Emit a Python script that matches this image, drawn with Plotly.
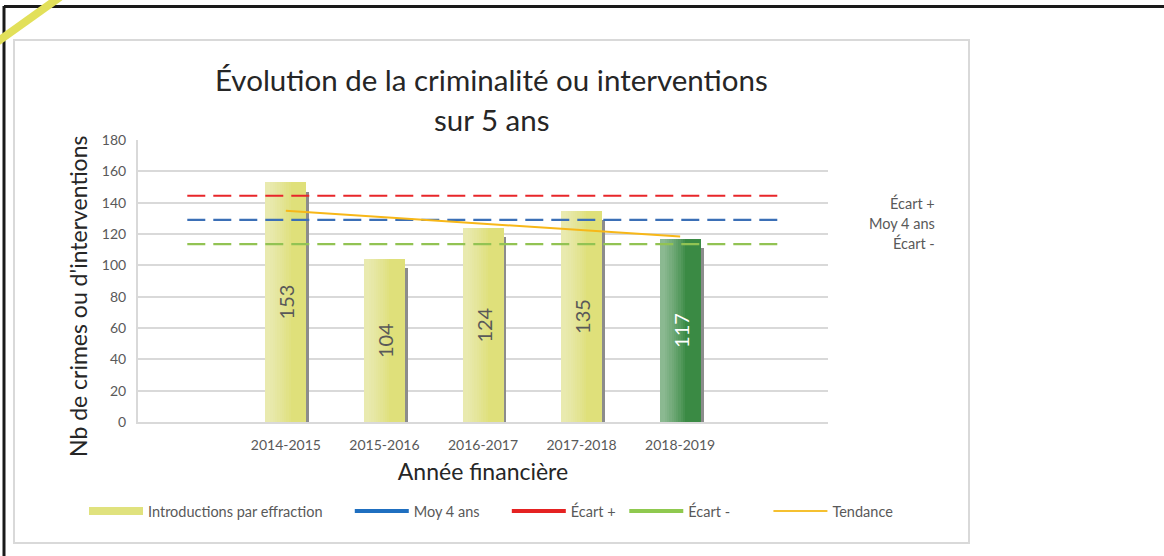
import plotly.graph_objects as go

# ---------------- data ----------------
categories = ["", "2014-2015", "2015-2016", "2016-2017", "2017-2018", "2018-2019", ""]
years = ["2014-2015", "2015-2016", "2016-2017", "2017-2018", "2018-2019"]
crimes = [153, 104, 124, 135, 117]
moy_4_ans = 129.0
ecart_plus = 144.4
ecart_moins = 113.6
tendance = [134.8, 130.7, 126.6, 122.5, 118.4]
y_ticks = [0, 20, 40, 60, 80, 100, 120, 140, 160, 180]

# ---------------- layout helpers ----------------
W, H = 1164, 556
PX0, PX1, PY0, PY1 = 138, 828, 140, 422  # plot area in pixels


def px(x):
    return (x - PX0) / (PX1 - PX0)


def py(y):
    return (PY1 - y) / (PY1 - PY0)


FONT = "Lato"
GREY_TXT = "#595959"
NB = "\u00a0"

bar_x = [categories.index(y) for y in years]
line_x = list(range(len(categories)))
bar_colors = ["#dfe07a"] * (len(crimes) - 1) + ["#3a8a44"]
txt_colors = [GREY_TXT] * (len(crimes) - 1) + ["#ffffff"]
BW = 0.416

fig = go.Figure()

# shadows of bars
fig.add_trace(go.Bar(
    x=bar_x, y=[v - 6 for v in crimes], width=0.03, offset=BW / 2,
    marker=dict(color="#8c8c8c", line=dict(width=0)),
    showlegend=False, hoverinfo="skip"))

# main bars
fig.add_trace(go.Bar(
    x=bar_x, y=crimes, width=BW,
    marker=dict(color=bar_colors, line=dict(width=0)),
    name="Introductions par effraction", showlegend=False))

# soft highlight strips (gradient look)
for i in range(10):
    w = BW * (0.62 - i * 0.055)
    fig.add_trace(go.Bar(
        x=bar_x, y=crimes, width=w, offset=-BW / 2,
        marker=dict(color="rgba(255,255,255,0.055)", line=dict(width=0)),
        showlegend=False, hoverinfo="skip"))

# data labels
fig.add_trace(go.Bar(
    x=bar_x, y=crimes, width=BW,
    marker=dict(color="rgba(0,0,0,0)", line=dict(width=0)),
    text=[str(v) for v in crimes], textposition="inside",
    insidetextanchor="middle", textangle=-90, constraintext="none",
    textfont=dict(family=FONT, size=20, color=txt_colors),
    showlegend=False, hoverinfo="skip"))

# horizontal reference lines
fig.add_trace(go.Scatter(x=line_x, y=[ecart_plus] * len(line_x), mode="lines",
                         line=dict(color="#e8262a", width=2.2, dash="18px,8px"),
                         showlegend=False, name="Écart +"))
fig.add_trace(go.Scatter(x=line_x, y=[moy_4_ans] * len(line_x), mode="lines",
                         line=dict(color="#3b6fb6", width=2.2, dash="18px,8px"),
                         showlegend=False, name="Moy 4 ans"))
fig.add_trace(go.Scatter(x=line_x, y=[ecart_moins] * len(line_x), mode="lines",
                         line=dict(color="#92c353", width=2.2, dash="18px,8px"),
                         showlegend=False, name="Écart -"))
# trend
fig.add_trace(go.Scatter(x=bar_x, y=tendance, mode="lines",
                         line=dict(color="#f7b718", width=2),
                         showlegend=False, name="Tendance"))

# legend entries
legend_items = [("Introductions par effraction", "#e0e27e", 8, 6),
                ("Moy 4 ans", "#1f6fc0", 4, 6),
                ("Écart +", "#e52222", 4, 1),
                ("Écart -", "#8fc94f", 4, 9),
                ("Tendance", "#f5c030", 2, 0)]
for name, col, wd, pad in legend_items:
    fig.add_trace(go.Scatter(x=[None], y=[None], mode="lines", name=name + NB * pad,
                             line=dict(color=col, width=wd)))

# title (two lines)
TITLE_FONT = dict(family=FONT, size=29.5, color="#262626")
fig.add_annotation(text="Évolution de la criminalité ou interventions", x=px(491.5), y=py(80),
                   xref="paper", yref="paper", showarrow=False, xanchor="center",
                   yanchor="middle", font=TITLE_FONT)
fig.add_annotation(text="sur 5 ans", x=px(491.5), y=py(120),
                   xref="paper", yref="paper", showarrow=False, xanchor="center",
                   yanchor="middle", font=TITLE_FONT)

# y axis title (placed like the reference, slightly below centre)
fig.add_annotation(text="Nb de crimes ou d'interventions", x=px(78), y=py(297),
                   xref="paper", yref="paper", showarrow=False, textangle=-90,
                   xanchor="center", yanchor="middle",
                   font=dict(family=FONT, size=23, color="#262626"))

# right-side labels
for txt, yy in [("Écart +", 203), ("Moy 4 ans", 223), ("Écart -", 243)]:
    fig.add_annotation(text=txt, x=px(937), y=py(yy), xref="paper", yref="paper",
                       xanchor="right", yanchor="middle", showarrow=False,
                       font=dict(family=FONT, size=14.5, color=GREY_TXT))

# frames
shapes = [
    # inner grey frame
    dict(type="rect", xref="paper", yref="paper", x0=px(14), x1=px(969), y0=py(543), y1=py(40),
         line=dict(color="#d9d9d9", width=2), layer="below"),
    # outer black border (top and left)
    dict(type="line", xref="paper", yref="paper", x0=px(4), x1=px(1170), y0=py(6.5), y1=py(6.5),
         line=dict(color="#1a1a1a", width=3)),
    dict(type="line", xref="paper", yref="paper", x0=px(4), x1=px(4), y0=py(6), y1=py(560),
         line=dict(color="#1a1a1a", width=3)),
    # yellow highlighter stroke
    dict(type="line", xref="paper", yref="paper", x0=px(-3), x1=px(60), y0=py(42), y1=py(-3),
         line=dict(color="#e2e05a", width=8)),
]

fig.update_layout(
    width=W, height=H,
    margin=dict(l=PX0, r=W - PX1, t=PY0, b=H - PY1, pad=0),
    paper_bgcolor="white", plot_bgcolor="white",
    barmode="overlay", bargap=0,
    shapes=shapes,
    font=dict(family=FONT, color=GREY_TXT),
    xaxis=dict(range=[-0.5, len(categories) - 0.5], tickvals=bar_x, ticktext=years,
               showgrid=False, zeroline=False, showline=True, linecolor="#d9d9d9", linewidth=2,
               ticks="", ticklabelstandoff=9,
               tickfont=dict(family=FONT, size=14, color=GREY_TXT),
               title=dict(text="Année financière", standoff=12,
                          font=dict(family=FONT, size=23, color="#262626"))),
    yaxis=dict(range=[0, 180], tickvals=y_ticks, showgrid=True, gridcolor="#d9d9d9", gridwidth=2,
               zeroline=False, showline=True, linecolor="#d9d9d9", linewidth=2,
               ticks="", ticklabelstandoff=7,
               tickfont=dict(family=FONT, size=14, color=GREY_TXT)),
    legend=dict(orientation="h", x=px(84), xanchor="left", y=py(511), yanchor="middle",
                font=dict(family=FONT, size=14.5, color=GREY_TXT), itemwidth=54,
                bgcolor="rgba(0,0,0,0)"),
)

fig.write_html("out.html", post_script="document.body.style.margin='0';",
               config={"displayModeBar": False})
